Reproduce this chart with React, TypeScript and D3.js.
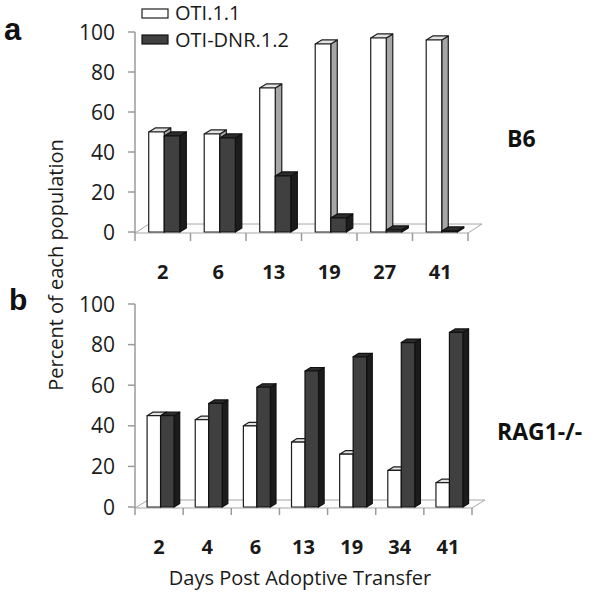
import React from "react";
import * as d3 from "d3";

const seriesNames = ["OTI.1.1", "OTI-DNR.1.2"];
const daysA = ["2", "6", "13", "19", "27", "41"];
const otiA = [50, 49, 72, 94, 97, 96];
const dnrA = [48, 47, 28, 7, 1, 0.5];
const daysB = ["2", "4", "6", "13", "19", "34", "41"];
const otiB = [45, 43, 40, 32, 26, 18, 12];
const dnrB = [45, 51, 59, 67, 74, 81, 86];
const yTicks = [0, 20, 40, 60, 80, 100];

const FONT = "'Open Sans', sans-serif";

const WHITE = { front: "#ffffff", top: "#e2e2e2", side: "#a6a6a6", stroke: "#1e1e1e" };
const BLACK = { front: "#404040", top: "#2c2c2c", side: "#1c1c1c", stroke: "#111111" };

type PanelProps = {
  cats: string[];
  a: number[];
  b: number[];
  x0: number;
  x1: number;
  yBase: number;
  yTop: number;
  floorDx: number;
  floorDy: number;
  tickLen: number;
  labelY: number;
  name: string;
  nameX: number;
  nameY: number;
};

function Bar3D({ x, w, y0, y1, dx, dy, c }: any) {
  const h = y0 - y1;
  const top = `M${x},${y1} L${x + dx},${y1 + dy} L${x + w + dx},${y1 + dy} L${x + w},${y1} Z`;
  const side = `M${x + w},${y1} L${x + w + dx},${y1 + dy} L${x + w + dx},${y0 + dy} L${x + w},${y0} Z`;
  return (
    <g strokeWidth={1.2} stroke={c.stroke} strokeLinejoin="round">
      <path d={side} fill={c.side} />
      <path d={top} fill={c.top} />
      <rect x={x} y={y1} width={w} height={Math.max(h, 0)} fill={c.front} />
    </g>
  );
}

function Panel(p: PanelProps) {
  const xs = d3.scaleBand<string>().domain(p.cats).range([p.x0, p.x1]).padding(0);
  const ys = d3.scaleLinear().domain([0, 100]).range([p.yBase, p.yTop]);
  const bw = xs.bandwidth();
  const barW = bw * 0.28;
  const dx = barW * 0.42;
  const dy = -barW * 0.26;
  const bounds = p.cats.map((c) => xs(c) as number).concat([p.x1]);
  return (
    <g>
      <path
        d={`M${p.x0},${p.yBase + 1} L${p.x1},${p.yBase + 1} L${p.x1 + p.floorDx},${p.yBase + 1 + p.floorDy} L${p.x0 + p.floorDx},${p.yBase + 1 + p.floorDy} Z`}
        fill="#fcfcfc"
        stroke="#a8a8a8"
        strokeWidth={1}
      />
      <line x1={p.x0} x2={p.x0} y1={p.yTop} y2={p.yBase + 1} stroke="#9a9a9a" strokeWidth={1.5} />
      {yTicks.map((t) => (
        <g key={t}>
          <line x1={p.x0 - 7} x2={p.x0} y1={ys(t)} y2={ys(t)} stroke="#9a9a9a" strokeWidth={1.5} />
          <text
            x={p.x0 - 20}
            y={ys(t)}
            dy="0.36em"
            textAnchor="end"
            fontFamily={FONT}
            fontSize={21}
            fill="#1a1a1a"
          >
            {t}
          </text>
        </g>
      ))}
      {bounds.map((bx, i) => (
        <line key={i} x1={bx} x2={bx} y1={p.yBase + 1} y2={p.yBase + 1 + p.tickLen} stroke="#9a9a9a" strokeWidth={1.5} />
      ))}
      {p.cats.map((c, i) => {
        const cx = (xs(c) as number) + bw / 2;
        return (
          <g key={c}>
            <Bar3D x={cx + 1.5 - barW} w={barW} y0={p.yBase} y1={ys(p.a[i])} dx={dx} dy={dy} c={WHITE} />
            <Bar3D x={cx + 1.5} w={barW} y0={p.yBase} y1={ys(p.b[i])} dx={dx} dy={dy} c={BLACK} />
          </g>
        );
      })}
      {p.cats.map((c) => (
        <text
          key={"l" + c}
          x={(xs(c) as number) + bw / 2}
          y={p.labelY}
          dy="0.36em"
          textAnchor="middle"
          fontFamily={FONT}
          fontWeight="bold"
          fontSize={20}
          fill="#1a1a1a"
        >
          {c}
        </text>
      ))}
      <text
        x={p.nameX}
        y={p.nameY}
        dy="0.36em"
        fontFamily={FONT}
        fontWeight="bold"
        fontSize={23}
        fill="#111"
      >
        {p.name}
      </text>
    </g>
  );
}

export default function App() {
  return (
    <svg width={601} height={597} style={{ position: "absolute", left: 0, top: 0, background: "#fff" }}>
      <rect x={0} y={0} width={601} height={597} fill="#fff" />
      <text x={4} y={40} fontFamily="'Liberation Sans', Arial, sans-serif" fontWeight="bold" fontSize={31} fill="#111">
        a
      </text>
      <text x={9} y={310} fontFamily="'Liberation Sans', Arial, sans-serif" fontWeight="bold" fontSize={30} fill="#111">
        b
      </text>

      <rect x={142} y={9} width={26} height={9} fill={WHITE.front} stroke="#1e1e1e" strokeWidth={1.2} />
      <text x={175} y={13} dy="0.36em" fontFamily={FONT} fontSize={20} fill="#1a1a1a">
        {seriesNames[0]}
      </text>
      <rect x={142} y={35} width={26} height={9} fill={BLACK.front} stroke="#111" strokeWidth={1.2} />
      <text x={175} y={40} dy="0.36em" fontFamily={FONT} fontSize={20} fill="#1a1a1a">
        {seriesNames[1]}
      </text>

      <Panel
        cats={daysA}
        a={otiA}
        b={dnrA}
        x0={135}
        x1={468}
        yBase={232}
        yTop={32}
        floorDx={14}
        floorDy={-9}
        tickLen={8}
        labelY={272}
        name="B6"
        nameX={507}
        nameY={139}
      />
      <Panel
        cats={daysB}
        a={otiB}
        b={dnrB}
        x0={135}
        x1={472}
        yBase={507}
        yTop={304}
        floorDx={13}
        floorDy={-8}
        tickLen={7}
        labelY={547}
        name="RAG1-/-"
        nameX={497}
        nameY={432}
      />

      <text
        transform="translate(56,265) rotate(-90)"
        textAnchor="middle"
        dy="0.36em"
        fontFamily={FONT}
        fontSize={20}
        fill="#1a1a1a"
      >
        Percent of each population
      </text>
      <text x={300} y={578} dy="0.36em" textAnchor="middle" fontFamily={FONT} fontSize={20} fill="#1a1a1a">
        Days Post Adoptive Transfer
      </text>
    </svg>
  );
}
